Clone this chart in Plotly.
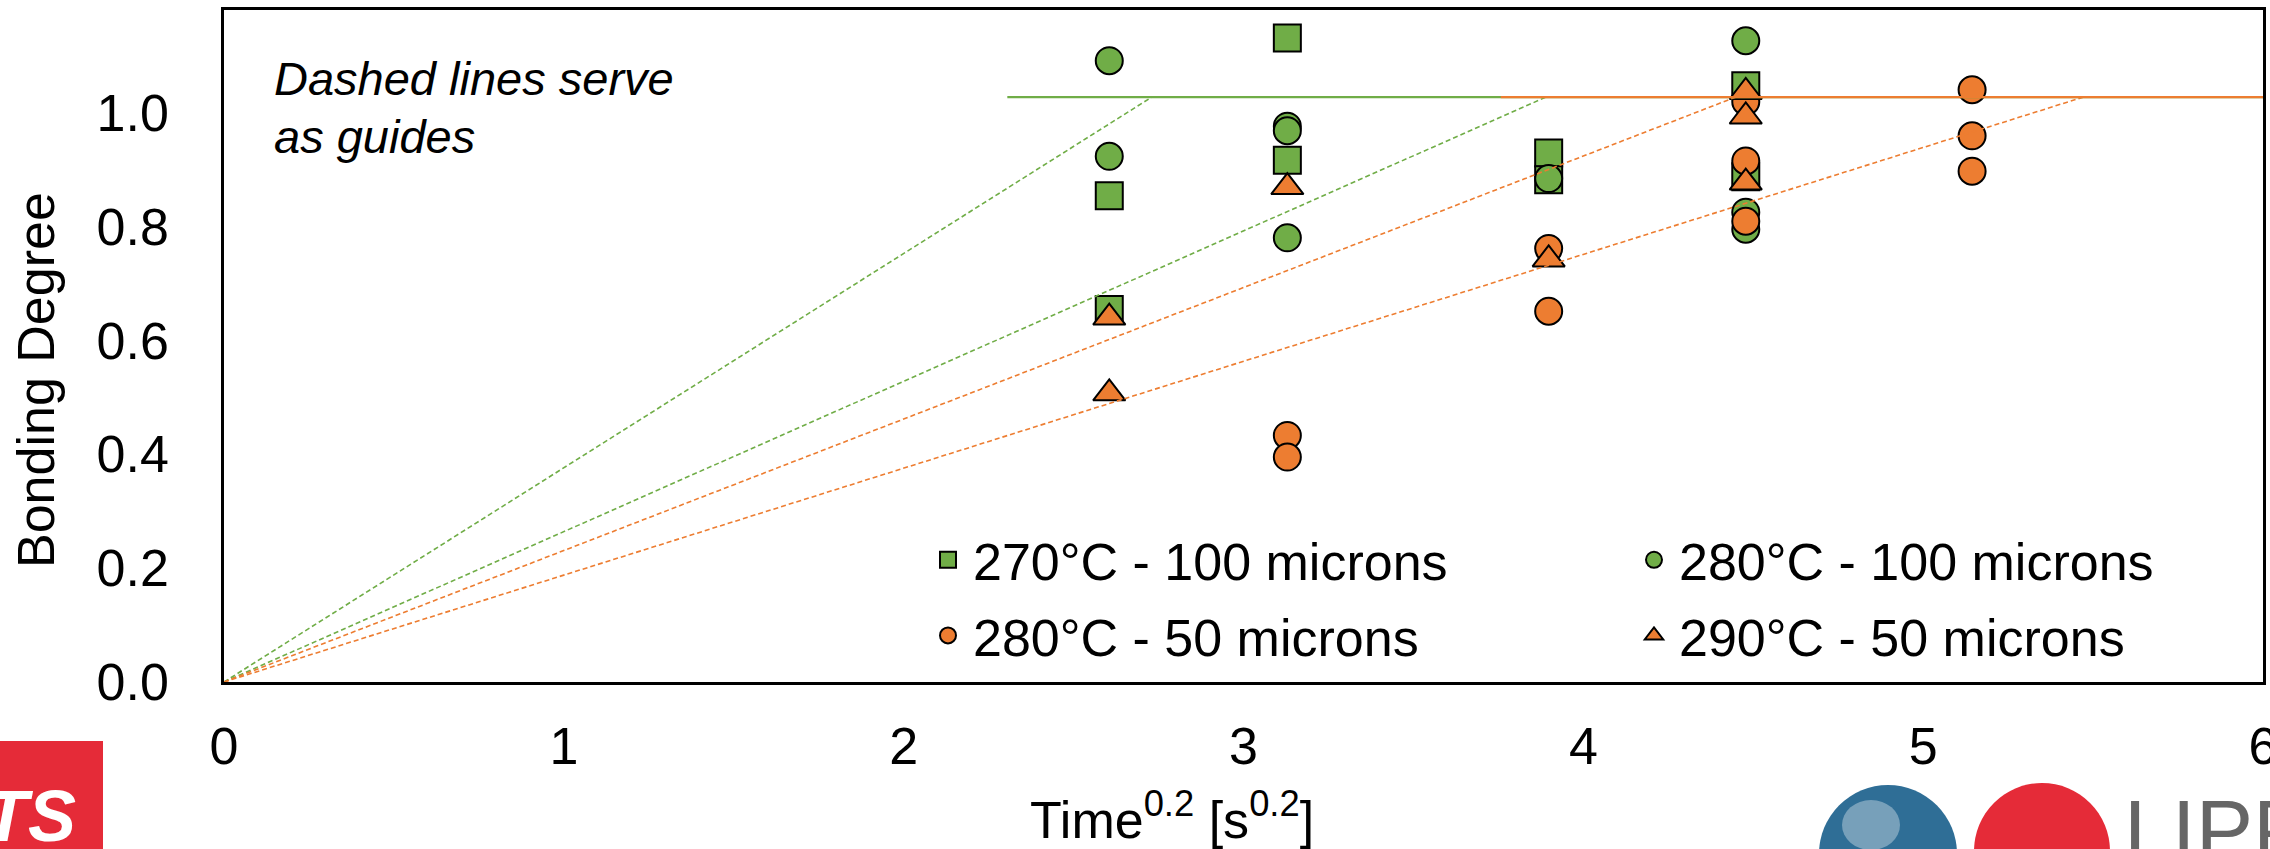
import plotly.graph_objects as go

# ---------------- data ----------------
# x values are Time^0.2 [s^0.2]
sq_270_100_x = [2.605, 2.605, 3.129, 3.129, 3.898, 3.898, 4.478, 4.478]
sq_270_100_y = [0.854, 0.654, 1.131, 0.916, 0.929, 0.882, 1.047, 0.887]

ci_280_100_x = [2.605, 2.605, 3.129, 3.129, 3.129, 3.898, 4.478, 4.478, 4.478]
ci_280_100_y = [1.091, 0.923, 0.976, 0.968, 0.780, 0.884, 1.126, 0.825, 0.795]

ci_280_50_x = [3.129, 3.129, 3.898, 3.898, 4.478, 4.478, 4.478, 5.144, 5.144, 5.144]
ci_280_50_y = [0.433, 0.395, 0.761, 0.651, 1.019, 0.915, 0.809, 1.040, 0.959, 0.897]

tr_290_50_x = [2.605, 2.605, 3.129, 3.898, 4.478, 4.478, 4.478]
tr_290_50_y = [0.640, 0.507, 0.869, 0.742, 1.036, 0.993, 0.877]

# guide lines: plateau level, start of plateau, end points of ramps from origin
plateau_level = 1.027
green_plateau_x = [2.305, 6.0]
orange_plateau_x = [3.757, 6.0]
green_ramp_ends = [2.730, 3.890]
orange_ramp_ends = [4.448, 5.471]

series_names = ["270°C - 100 microns", "280°C - 100 microns",
                "280°C - 50 microns", "290°C - 50 microns"]
x_ticks = [0, 1, 2, 3, 4, 5, 6]
y_ticks = [0.0, 0.2, 0.4, 0.6, 0.8, 1.0]

GREEN = "#70AD47"
ORANGE = "#ED7D31"
FONT = "Arial, Liberation Sans, sans-serif"

# ---------------- layout geometry (pixels) ----------------
W, H = 2270, 849
PL, PR, PT, PB = 224, 2263, 10, 682


def px(x):
    return (x - PL) / (PR - PL)


def py(y):
    return (PB - y) / (PB - PT)


fig = go.Figure()

mk_line = dict(color="black", width=2)
fig.add_trace(go.Scatter(x=sq_270_100_x, y=sq_270_100_y, mode="markers", name=series_names[0],
                         legend="legend", legendgroup="a",
                         marker=dict(symbol="square", size=27, color=GREEN, line=mk_line)))
fig.add_trace(go.Scatter(x=ci_280_100_x, y=ci_280_100_y, mode="markers", name=series_names[1],
                         legend="legend2", legendgroup="b",
                         marker=dict(symbol="circle", size=27, color=GREEN, line=mk_line)))
fig.add_trace(go.Scatter(x=ci_280_50_x, y=ci_280_50_y, mode="markers", name=series_names[2],
                         legend="legend", legendgroup="c",
                         marker=dict(symbol="circle", size=27, color=ORANGE, line=mk_line)))
fig.add_trace(go.Scatter(x=tr_290_50_x, y=tr_290_50_y, mode="markers", name=series_names[3],
                         legend="legend2", legendgroup="d",
                         marker=dict(symbol="triangle-up", size=28, color=ORANGE, line=mk_line)))

# guide lines (drawn over the markers like in the reference)
for xe in green_ramp_ends:
    fig.add_trace(go.Scatter(x=[0, xe], y=[0, plateau_level], mode="lines", showlegend=False,
                             hoverinfo="skip", line=dict(color=GREEN, width=1.6, dash="5px,3px")))
for xe in orange_ramp_ends:
    fig.add_trace(go.Scatter(x=[0, xe], y=[0, plateau_level], mode="lines", showlegend=False,
                             hoverinfo="skip", line=dict(color=ORANGE, width=1.6, dash="5px,3px")))
fig.add_trace(go.Scatter(x=green_plateau_x, y=[plateau_level] * 2, mode="lines", showlegend=False,
                         hoverinfo="skip", line=dict(color=GREEN, width=2.2)))
fig.add_trace(go.Scatter(x=orange_plateau_x, y=[plateau_level] * 2, mode="lines", showlegend=False,
                         hoverinfo="skip", line=dict(color=ORANGE, width=2.2)))

annotations = [
    # axis titles
    dict(text="Time<sup>0.2</sup> [s<sup>0.2</sup>]", x=px(1172), y=py(816),
         xref="paper", yref="paper", xanchor="center", yanchor="middle", showarrow=False,
         font=dict(family=FONT, size=52, color="black")),
    dict(text="Bonding Degree", x=px(36), y=py(380), textangle=-90,
         xref="paper", yref="paper", xanchor="center", yanchor="middle", showarrow=False,
         font=dict(family=FONT, size=52, color="black")),
    # note
    dict(text="<i>Dashed lines serve</i>", x=px(272), y=py(79), xref="paper", yref="paper",
         xanchor="left", yanchor="middle", showarrow=False,
         font=dict(family=FONT, size=47, color="black")),
    dict(text="<i>as guides</i>", x=px(272), y=py(136), xref="paper", yref="paper",
         xanchor="left", yanchor="middle", showarrow=False,
         font=dict(family=FONT, size=47, color="black")),
    # logos (approximation)
    dict(text="<b><i>TS</i></b>", x=px(78), y=py(816), xref="paper", yref="paper",
         xanchor="right", yanchor="middle", showarrow=False,
         font=dict(family=FONT, size=72, color="white")),
    dict(text="LIPP", x=px(2122), y=py(830), xref="paper", yref="paper",
         xanchor="left", yanchor="middle", showarrow=False,
         font=dict(family=FONT, size=86, color="#666666")),
]

shapes = [
    dict(type="rect", xref="paper", yref="paper", x0=px(-5), x1=px(103), y0=py(860), y1=py(741),
         fillcolor="#E52B38", line=dict(width=0), layer="below"),
    dict(type="circle", xref="paper", yref="paper", x0=px(1819), x1=px(1957), y0=py(923), y1=py(785),
         fillcolor="#2F6E96", line=dict(width=0)),
    dict(type="circle", xref="paper", yref="paper", x0=px(1842), x1=px(1900), y0=py(850), y1=py(800),
         fillcolor="rgba(255,255,255,0.35)", line=dict(width=0)),
    dict(type="circle", xref="paper", yref="paper", x0=px(1974), x1=px(2110), y0=py(919), y1=py(783),
         fillcolor="#E52B38", line=dict(width=0)),
]

legend_common = dict(orientation="v", yanchor="middle", xanchor="left", itemwidth=40,
                     font=dict(family=FONT, size=52, color="black"),
                     bgcolor="rgba(0,0,0,0)", borderwidth=0,
                     traceorder="grouped", tracegroupgap=5)

fig.update_layout(
    template="none",
    width=W, height=H,
    margin=dict(l=PL, r=W - PR, t=PT, b=H - PB, pad=0, autoexpand=False),
    paper_bgcolor="white", plot_bgcolor="white",
    font=dict(family=FONT, size=52, color="black"),
    showlegend=True,
    legend=dict(x=px(923), y=py(598), **legend_common),
    legend2=dict(x=px(1629), y=py(598), **legend_common),
    xaxis=dict(range=[0, 6], tickvals=x_ticks, ticktext=[str(v) for v in x_ticks],
               showgrid=False, zeroline=False, showline=True, linecolor="black", linewidth=2.5,
               mirror=True, ticks="", ticklabelstandoff=17, automargin=False,
               ticklabeloverflow="allow",
               tickfont=dict(family=FONT, size=52, color="black")),
    yaxis=dict(range=[0, 1.18], tickvals=y_ticks, ticktext=[f"{v:.1f}" for v in y_ticks],
               showgrid=False, zeroline=False, showline=True, linecolor="black", linewidth=2.5,
               mirror=True, ticks="", ticklabelstandoff=42, automargin=False,
               ticklabeloverflow="allow",
               tickfont=dict(family=FONT, size=52, color="black")),
    annotations=annotations,
    shapes=shapes,
)

fig.write_html("out.html", config={"displayModeBar": False},
               post_script="document.body.style.margin='0';")
